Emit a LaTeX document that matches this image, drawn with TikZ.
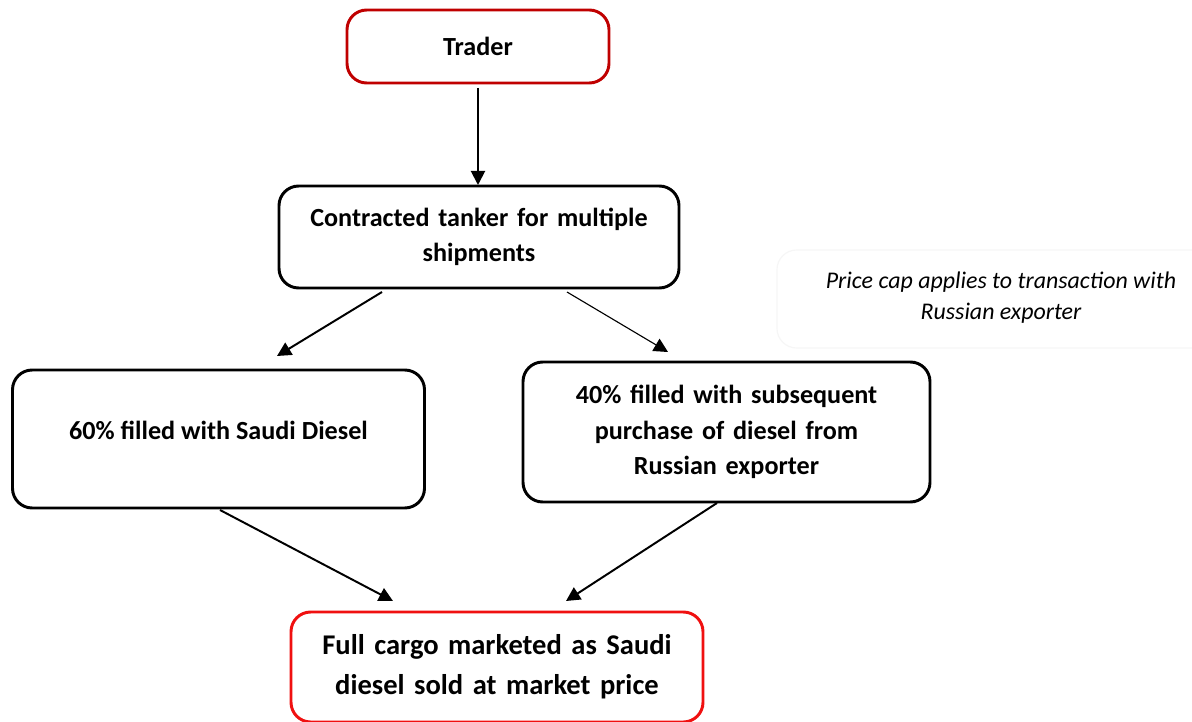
\documentclass[tikz,border=0pt]{standalone}
\usepackage{fontspec}
\setmainfont{Carlito}
\usetikzlibrary{arrows.meta}
\definecolor{darkred}{HTML}{C00000}
\definecolor{brightred}{HTML}{F01010}
\definecolor{faint}{HTML}{F6F6F6}
\begin{document}
\begin{tikzpicture}[x=0.025cm,y=-0.025cm,
  box/.style={draw=black,line width=2.1pt,rounded corners=14pt,fill=white,align=center,
    font=\bfseries\fontsize{18.6}{25}\selectfont,inner sep=0pt},
  redbox/.style={box,draw=darkred},
  bigred/.style={box,draw=brightred,font=\bfseries\fontsize{20.3}{28.5}\selectfont},
  plain/.style={align=center,font=\bfseries\fontsize{18.6}{25}\selectfont,inner sep=0pt},
  arr/.style={line width=1.4pt,-{Triangle[length=10pt,width=10pt]}},
  thinarr/.style={line width=0.8pt,-{Triangle[length=10pt,width=10pt]}},
  note/.style={font=\itshape\fontsize{17}{22}\selectfont,align=center}]
\path[use as bounding box,fill=white] (0,0) rectangle (1192,722);
\draw[faint,line width=0.8pt,rounded corners=14pt] (1200,250) -- (777,250) -- (777,348) -- (1200,348);
\node[redbox,minimum width=262*0.025cm,minimum height=73*0.025cm,text width=240*0.025cm] (trader) at (478,46.5) {Trader};
\node[box,minimum width=400*0.025cm,minimum height=102*0.025cm,text width=380*0.025cm] (tanker) at (479,237) {Contracted tanker for multiple\\shipments};
\node[box,minimum width=412*0.025cm,minimum height=138*0.025cm] (sixty) at (218.5,439) {};
\node[plain] (sixtytext) at (218.5,430) {60\% filled with Saudi Diesel};
\node[box,minimum width=407*0.025cm,minimum height=140*0.025cm,text width=390*0.025cm] (forty) at (726.5,432) {40\% filled with subsequent\\purchase of diesel from\\Russian exporter};
\node[bigred,minimum width=412*0.025cm,minimum height=110*0.025cm,text width=400*0.025cm] (full) at (497,667) {Full cargo marketed as Saudi\\diesel sold at market price};
\node[note] (cap) at (1001,298) {Price cap applies to transaction with\\Russian exporter};
\coordinate (t1) at (478,88);
\coordinate (t2) at (478,185);
\draw[arr] (t1) -- (t2);
\coordinate (a1) at (382,292);
\coordinate (a2) at (277,356);
\draw[arr] (a1) -- (a2);
\coordinate (b1) at (567,292);
\coordinate (b2) at (668,352);
\draw[thinarr] (b1) -- (b2);
\coordinate (c1) at (220,510);
\coordinate (c2) at (393,601);
\draw[arr] (c1) -- (c2);
\coordinate (d1) at (717,503);
\coordinate (d2) at (566,601);
\draw[arr] (d1) -- (d2);
\end{tikzpicture}
\end{document}
